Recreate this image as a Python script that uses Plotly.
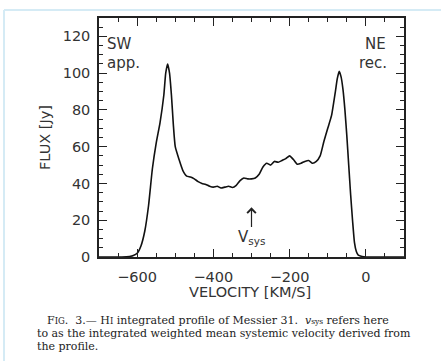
import plotly.graph_objects as go

# ---- data ----
velocity = [-700, -660, -640, -620, -610, -600, -590, -580, -570, -560, -550, -540, -530,
            -525, -520, -515, -510, -505, -500, -490, -480, -470, -460, -450, -440, -430,
            -420, -410, -400, -390, -380, -370, -360, -350, -340, -330, -320, -310, -300,
            -290, -280, -270, -260, -250, -240, -230, -220, -210, -200, -190, -180, -170,
            -160, -150, -140, -130, -120, -110, -100, -90, -80, -75, -70, -65, -60, -55,
            -50, -45, -40, -35, -30, -25, -20, -10, 0, 20, 60, 100]
flux = [0, 0, 0, 0.3, 0.8, 2, 6, 14, 28, 48, 62, 73, 88,
        100, 105, 100, 88, 72, 60, 53, 47, 44, 43.5, 42.5, 41, 40,
        39.5, 38.5, 38, 38.5, 37.5, 38, 38.5, 37.8, 39, 41.5, 43, 42.5, 42.5,
        43, 45, 49, 51, 50, 52, 51.5, 52.5, 53.5, 55, 53, 50.5, 51,
        52, 52.5, 51, 52, 55, 63, 70, 77, 90, 97, 101, 98, 91, 80,
        66, 50, 34, 20, 8, 3, 1, 0.3, 0, 0, 0, 0]

x_ticks = [-600, -400, -200, 0]
y_ticks = [0, 20, 40, 60, 80, 100, 120]
x_range = [-700, 100]
y_range = [0, 130]
v_sys = -300

caption_lines = [
    "F<span style='font-size:8.5px'>IG</span>.  3.\u2014 H<span style='font-size:8.5px'>I</span> integrated profile of Messier 31.  <i>v</i><span style='font-size:7.5px'>sys</span> refers here",
    "to as the integrated weighted mean systemic velocity derived from",
    "the profile.",
]

# ---- layout geometry (pixels) ----
W, H = 441, 361
L, R, T, B = 99, 404, 18, 257
pw, ph = R - L, B - T

def px(x):
    return (x - L) / pw

def py(y):
    return (B - y) / ph

AX_FONT = dict(family="DejaVu Sans", size=14.5, color="#333333")

fig = go.Figure()
fig.add_trace(go.Scatter(
    x=velocity, y=flux, mode="lines",
    line=dict(color="#111111", width=1.6, shape="spline", smoothing=0.5),
    hoverinfo="skip", showlegend=False,
))

axis_common = dict(
    showline=True, linecolor="#222222", linewidth=1.5, mirror="ticks",
    ticks="inside", ticklen=8, tickwidth=1.2, tickcolor="#222222",
    showgrid=False, zeroline=False, tickfont=AX_FONT,
)

fig.update_xaxes(range=x_range, tickvals=x_ticks,
                 ticktext=[("\u2212" + str(abs(v))) if v < 0 else str(v) for v in x_ticks],
                 ticklabelstandoff=6,
                 minor=dict(ticks="inside", ticklen=4, dtick=50, tick0=0,
                            tickcolor="#222222", tickwidth=1.2, showgrid=False),
                 **axis_common)
fig.update_yaxes(range=y_range, tickvals=y_ticks, ticklabelstandoff=4,
                 minor=dict(ticks="inside", ticklen=4, dtick=5, tick0=0,
                            tickcolor="#222222", tickwidth=1.2, showgrid=False),
                 **axis_common)

ann = []
# axis titles
ann.append(dict(text="VELOCITY [KM/S]", xref="paper", yref="paper",
                x=px(250), y=py(292), xanchor="center", yanchor="middle",
                showarrow=False, font=AX_FONT))
ann.append(dict(text="FLUX [Jy]", xref="paper", yref="paper",
                x=px(45), y=py(138), xanchor="center", yanchor="middle",
                textangle=-90, showarrow=False, font=AX_FONT))
# corner labels
lab_font = dict(family="DejaVu Sans", size=15, color="#333333")
ann.append(dict(text="SW", xref="paper", yref="paper", x=px(105), y=py(44),
                xanchor="left", yanchor="middle", showarrow=False, font=lab_font))
ann.append(dict(text="app.", xref="paper", yref="paper", x=px(105), y=py(63),
                xanchor="left", yanchor="middle", showarrow=False, font=lab_font))
ann.append(dict(text="NE", xref="paper", yref="paper", x=px(388), y=py(44),
                xanchor="right", yanchor="middle", showarrow=False, font=lab_font))
ann.append(dict(text="rec.", xref="paper", yref="paper", x=px(389), y=py(63),
                xanchor="right", yanchor="middle", showarrow=False, font=lab_font))
# v_sys arrow + label
ann.append(dict(x=v_sys, y=27, ax=v_sys, ay=15.5, xref="x", yref="y",
                axref="x", ayref="y", text="", showarrow=True,
                arrowhead=4, arrowsize=1.4, arrowwidth=1.2, arrowcolor="#222222"))
ann.append(dict(text="V<sub>sys</sub>", x=v_sys, y=10.5, xref="x", yref="y",
                xanchor="center", yanchor="middle", showarrow=False, font=lab_font))
# caption
cap_font = dict(family="DejaVu Serif", size=11, color="#222222")
cap_pos = [(45, 320), (35, 333), (35, 346)]
for line, (cx, cy) in zip(caption_lines, cap_pos):
    ann.append(dict(text=line, xref="paper", yref="paper", x=px(cx), y=py(cy),
                    xanchor="left", yanchor="middle", showarrow=False, font=cap_font))

shapes = [
    dict(type="line", xref="paper", yref="paper", x0=px(4), x1=px(4), y0=py(10), y1=py(361),
         line=dict(color="#d5ebf5", width=2)),
    dict(type="line", xref="paper", yref="paper", x0=px(4), x1=px(441), y0=py(10), y1=py(10),
         line=dict(color="#d5ebf5", width=2)),
]

fig.update_layout(
    width=W, height=H, autosize=False,
    margin=dict(l=L, r=W - R, t=T, b=H - B, pad=0),
    paper_bgcolor="white", plot_bgcolor="white",
    annotations=ann, shapes=shapes, showlegend=False,
)

fig.write_html("out.html", config={"displayModeBar": False})
